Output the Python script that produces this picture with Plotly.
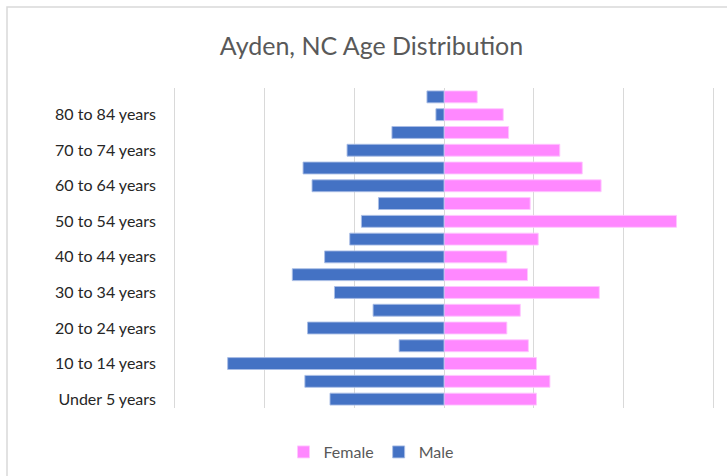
import plotly.graph_objects as go

age_groups = ["Under 5 years", "5 to 9 years", "10 to 14 years", "15 to 19 years",
              "20 to 24 years", "25 to 29 years", "30 to 34 years", "35 to 39 years",
              "40 to 44 years", "45 to 49 years", "50 to 54 years", "55 to 59 years",
              "60 to 64 years", "65 to 69 years", "70 to 74 years", "75 to 79 years",
              "80 to 84 years", "85 years and over"]
male = [127, 155, 241, 50, 152, 79, 122, 169, 133, 105, 92, 73, 147, 157, 108, 58, 9, 19]
female = [103, 118, 103, 94, 70, 85, 173, 93, 70, 105, 259, 96, 175, 154, 129, 72, 66, 37]
tick_labels = ["Under 5 years", "10 to 14 years", "20 to 24 years", "30 to 34 years",
               "40 to 44 years", "50 to 54 years", "60 to 64 years", "70 to 74 years",
               "80 to 84 years"]

W, H = 727, 476
ml, mr, mt, mb = 172, 11, 88, 68
pw, ph = W - ml - mr, H - mt - mb

fig = go.Figure()
fig.add_trace(go.Bar(y=age_groups, x=female, orientation="h", name="Female",
                     marker=dict(color="#FF88FF", line=dict(color="rgba(255,200,255,0.9)", width=1))))
fig.add_trace(go.Bar(y=age_groups, x=[-v for v in male], orientation="h", name="Male",
                     marker=dict(color="#4472C4", line=dict(color="rgba(170,190,230,0.9)", width=1))))

def px2paperx(px):
    return (px - ml) / pw

def py2papery(py):
    return (H - mb - py) / ph

fig.update_layout(
    width=W, height=H,
    margin=dict(l=ml, r=mr, t=mt, b=mb, autoexpand=False),
    barmode="overlay", bargap=0.33,
    plot_bgcolor="white", paper_bgcolor="white",
    title=dict(text="Ayden, NC Age Distribution", x=371.5 / W, xanchor="center",
               y=1 - 46 / H, yanchor="middle",
               font=dict(family="Lato", size=25, color="#595959")),
    legend=dict(orientation="h", x=px2paperx(371), xanchor="center", y=py2papery(452), yanchor="middle",
                font=dict(family="Lato", size=16, color="#595959"),
                traceorder="normal", itemwidth=30),
    showlegend=True,
    xaxis=dict(range=[-303, 303], dtick=100, tick0=0, showticklabels=False,
               showgrid=True, gridcolor="#D9D9D9", gridwidth=1.3,
               zeroline=True, zerolinecolor="#D9D9D9", zerolinewidth=1.3, showline=False,
               fixedrange=True),
    yaxis=dict(tickmode="array", tickvals=tick_labels, ticktext=tick_labels,
               categoryorder="array", categoryarray=age_groups,
               showgrid=False, zeroline=False, showline=False, ticks="",
               ticklabelstandoff=15,
               tickfont=dict(family="Lato", size=16, color="#262626")),
    shapes=[dict(type="rect", xref="paper", yref="paper",
                 x0=px2paperx(7), x1=px2paperx(740), y0=py2papery(7), y1=py2papery(490),
                 line=dict(color="#D9D9D9", width=1.5), layer="below")],
)

fig.write_html("out.html", config={"displayModeBar": False},
               post_script="document.body.style.margin='0';document.body.style.padding='0';")
